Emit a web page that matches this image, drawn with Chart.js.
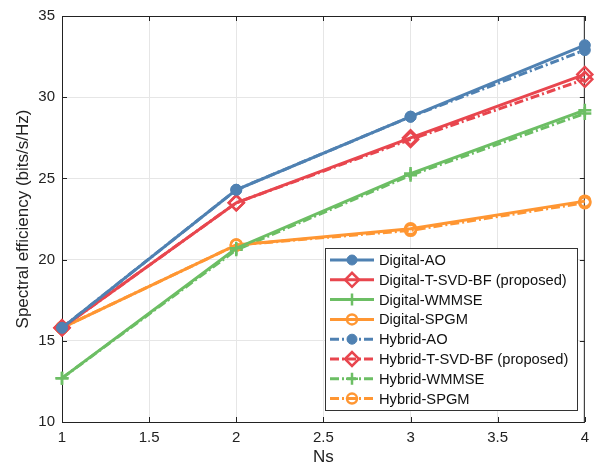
<!DOCTYPE html>
<html>
<head>
<meta charset="utf-8">
<script src="https://cdn.jsdelivr.net/npm/chart.js@4"></script>
<style>
  html, body { margin: 0; padding: 0; background: #fff; }
  #wrap { width: 596px; height: 472px; }
</style>
</head>
<body>
<div id="wrap"><canvas id="myChart" width="596" height="472"></canvas></div>
<script>
const nsValues = [1, 2, 3, 4];
const xTicks = [1, 1.5, 2, 2.5, 3, 3.5, 4];
const yTicks = [10, 15, 20, 25, 30, 35];

const digitalAO = [15.8, 24.3, 28.8, 33.2];
const digitalTSVD = [15.8, 23.5, 27.5, 31.4];
const digitalWMMSE = [12.7, 20.7, 25.3, 29.2];
const digitalSPGM = [15.8, 20.9, 21.9, 23.6];
const hybridAO = [15.8, 24.3, 28.8, 32.9];
const hybridTSVD = [15.8, 23.5, 27.4, 31.1];
const hybridWMMSE = [12.7, 20.6, 25.2, 29.0];
const hybridSPGM = [15.8, 20.9, 21.8, 23.5];

const BLUE = 'rgb(79,129,178)';
const RED = 'rgb(232,70,78)';
const GREEN = 'rgb(108,190,100)';
const ORANGE = 'rgb(255,150,50)';
const DASHDOT = [9, 3, 2, 3];

const FONT = 'Liberation Sans, Arial, sans-serif';

const toPts = (arr) => arr.map((v, i) => ({ x: nsValues[i], y: v }));

const mkSet = (label, data, color, style, dashed) => {
  const hollow = style !== 'circleFilled';
  return {
    label: label,
    data: toPts(data),
    borderColor: color,
    backgroundColor: color,
    borderWidth: 3,
    borderDash: dashed ? DASHDOT : [],
    pointStyle: style === 'circleFilled' ? 'circle' : style,
    pointRadius: style === 'rectRot' ? 7.5 : (style === 'cross' ? 6.5 : 5.5),
    pointBorderWidth: style === 'circleFilled' ? 1 : 2.5,
    pointBorderColor: color,
    pointBackgroundColor: hollow ? 'rgba(255,255,255,0)' : color,
    fill: false,
    clip: false,
    tension: 0
  };
};

const datasets = [
  mkSet('Digital-AO', digitalAO, BLUE, 'circleFilled', false),
  mkSet('Digital-T-SVD-BF (proposed)', digitalTSVD, RED, 'rectRot', false),
  mkSet('Digital-WMMSE', digitalWMMSE, GREEN, 'cross', false),
  mkSet('Digital-SPGM', digitalSPGM, ORANGE, 'circle', false),
  mkSet('Hybrid-AO', hybridAO, BLUE, 'circleFilled', true),
  mkSet('Hybrid-T-SVD-BF (proposed)', hybridTSVD, RED, 'rectRot', true),
  mkSet('Hybrid-WMMSE', hybridWMMSE, GREEN, 'cross', true),
  mkSet('Hybrid-SPGM', hybridSPGM, ORANGE, 'circle', true)
];

// box, inward ticks and the legend inside the axes
const frame = {
  id: 'frame',
  beforeDatasetsDraw(chart) {
    const { ctx, chartArea: a, scales } = chart;
    ctx.save();
    ctx.strokeStyle = '#222';
    ctx.lineWidth = 1;
    ctx.strokeRect(a.left + 0.5, a.top + 0.5, a.right - a.left - 1, a.bottom - a.top);
    ctx.beginPath();
    xTicks.forEach(t => {
      const px = Math.round(scales.x.getPixelForValue(t)) + 0.5;
      ctx.moveTo(px, a.bottom); ctx.lineTo(px, a.bottom - 5);
      ctx.moveTo(px, a.top); ctx.lineTo(px, a.top + 5);
    });
    yTicks.forEach(t => {
      const py = Math.round(scales.y.getPixelForValue(t)) + 0.5;
      ctx.moveTo(a.left, py); ctx.lineTo(a.left + 5, py);
      ctx.moveTo(a.right, py); ctx.lineTo(a.right - 5, py);
    });
    ctx.stroke();
    ctx.restore();
  },
  afterDatasetsDraw(chart) {
    const { ctx } = chart;
    ctx.save();
    const lx = 325, ly = 248, lw = 252, lh = 162;
    ctx.fillStyle = '#fff';
    ctx.fillRect(lx, ly, lw, lh);
    ctx.strokeStyle = '#333';
    ctx.lineWidth = 1;
    ctx.strokeRect(lx + 0.5, ly + 0.5, lw, lh);
    ctx.font = '14.7px ' + FONT;
    ctx.textBaseline = 'middle';
    chart.data.datasets.forEach((ds, i) => {
      const cy = ly + 12 + i * 19.8;
      ctx.strokeStyle = ds.borderColor;
      ctx.lineWidth = 3;
      ctx.setLineDash(ds.borderDash);
      ctx.beginPath();
      ctx.moveTo(330, cy); ctx.lineTo(374, cy);
      ctx.stroke();
      ctx.setLineDash([]);
      ctx.fillStyle = ds.pointBackgroundColor;
      ctx.strokeStyle = ds.pointBorderColor;
      ctx.lineWidth = ds.pointBorderWidth;
      Chart.helpers.drawPoint(ctx, {
        pointStyle: ds.pointStyle,
        radius: ds.pointRadius - 0.5,
        borderWidth: ds.pointBorderWidth,
        rotation: 0
      }, 352, cy);
      ctx.fillStyle = '#111';
      ctx.fillText(ds.label, 379, cy + 1);
    });
    ctx.restore();
  }
};

let myChart;

const setup = () => {
  const ctxt = document.getElementById('myChart').getContext('2d');
  myChart = new Chart(ctxt, {
    type: 'line',
    data: { datasets: datasets },
    options: {
      responsive: false,
      animation: false,
      layout: { padding: { top: 12, right: 8, left: 0, bottom: 0 } },
      plugins: { legend: { display: false }, tooltip: { enabled: false } },
      scales: {
        x: {
          type: 'linear',
          min: 1,
          max: 4,
          afterBuildTicks: (s) => { s.ticks = xTicks.map(v => ({ value: v })); },
          afterFit: (s) => { s.height = 50; },
          grid: { color: '#e6e6e6', drawTicks: false },
          border: { display: false },
          ticks: { color: '#222', padding: 7, font: { family: FONT, size: 15 }, callback: (v) => String(v) },
          title: { display: true, text: 'Ns', color: '#222', padding: { top: 4 }, font: { family: FONT, size: 17 } }
        },
        y: {
          min: 10,
          max: 35,
          afterBuildTicks: (s) => { s.ticks = yTicks.map(v => ({ value: v })); },
          afterFit: (s) => { s.width = 62; },
          grid: { color: '#e6e6e6', drawTicks: false },
          border: { display: false },
          ticks: { color: '#222', padding: 7, font: { family: FONT, size: 15 }, callback: (v) => String(v) },
          title: { display: true, text: 'Spectral efficiency (bits/s/Hz)', color: '#222', padding: { top: 13, bottom: 0 }, font: { family: FONT, size: 17 } }
        }
      }
    },
    plugins: [frame]
  });
};

window.addEventListener('DOMContentLoaded', setup);
</script>
</body>
</html>
